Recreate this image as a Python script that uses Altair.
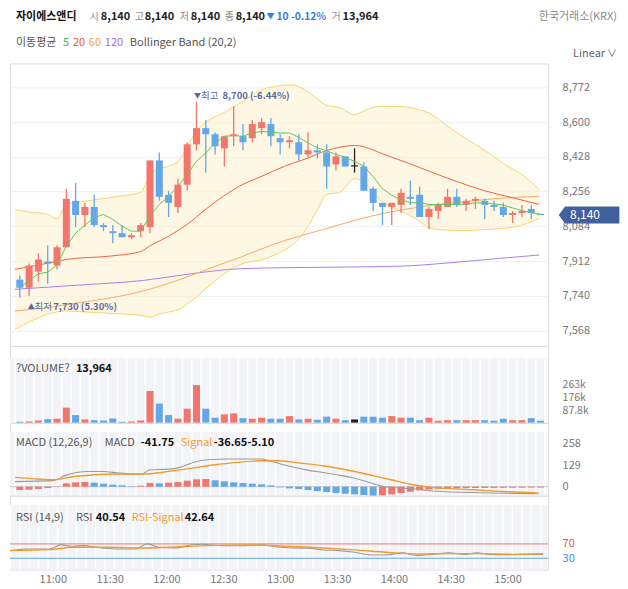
import altair as alt
import pandas as pd

alt.data_transformers.disable_max_rows()
FONT = "Noto Sans CJK KR"

# ---------------- data ----------------
start_min = 640  # 10:40, 5-minute candles
times = [start_min + 5 * i for i in range(57)]

open_ = [7820, 7780, 7860, 7910, 7890, 7980, 8210, 8140, 8180, 8090,
         8060, 8050, 8030, 8060, 8080, 8410, 8240, 8180, 8290, 8490,
         8570, 8540, 8470, 8530, 8530, 8520, 8570, 8590, 8520, 8500,
         8500, 8440, 8460, 8450, 8390, 8430, 8380, 8380, 8270, 8200,
         8180, 8190, 8230, 8240, 8130, 8160, 8180, 8230, 8190, 8210,
         8210, 8190, 8180, 8140, 8150, 8170, 8140]
high = [7840, 7900, 7950, 7990, 7990, 8270, 8300, 8200, 8240, 8100,
        8090, 8090, 8050, 8100, 8410, 8450, 8260, 8320, 8500, 8700,
        8610, 8550, 8530, 8680, 8590, 8610, 8620, 8620, 8540, 8530,
        8540, 8550, 8490, 8490, 8450, 8430, 8470, 8400, 8280, 8200,
        8200, 8270, 8310, 8280, 8180, 8200, 8270, 8270, 8220, 8230,
        8220, 8210, 8200, 8160, 8190, 8190, 8140]
low = [7730, 7740, 7810, 7800, 7870, 7980, 8080, 8080, 8080, 8060,
       8000, 8030, 8020, 8030, 8050, 8210, 8130, 8150, 8260, 8460,
       8350, 8440, 8380, 8480, 8460, 8500, 8540, 8480, 8440, 8470,
       8410, 8420, 8420, 8270, 8360, 8380, 8350, 8260, 8160, 8090,
       8090, 8150, 8190, 8130, 8070, 8120, 8180, 8180, 8160, 8170,
       8120, 8160, 8130, 8100, 8130, 8120, 8140]
close = [7780, 7890, 7920, 7900, 7980, 8220, 8140, 8180, 8090, 8080,
         8050, 8030, 8040, 8090, 8410, 8230, 8200, 8290, 8490, 8570,
         8540, 8480, 8530, 8540, 8500, 8590, 8600, 8530, 8500, 8510,
         8440, 8460, 8450, 8380, 8430, 8380, 8380, 8260, 8200, 8180,
         8200, 8250, 8220, 8130, 8170, 8190, 8230, 8190, 8210, 8220,
         8190, 8180, 8140, 8150, 8160, 8150, 8140]
volume = [7000, 9000, 16000, 25000, 28000, 104000, 53000, 23000, 18000, 16000,
          30000, 7000, 9000, 16000, 219000, 132000, 53000, 28000, 97000, 259000,
          97000, 35000, 58000, 65000, 32000, 28000, 35000, 28000, 28000, 46000,
          23000, 28000, 21000, 42000, 28000, 18000, 23000, 42000, 42000, 35000,
          46000, 35000, 35000, 18000, 35000, 14000, 18000, 18000, 18000, 18000,
          18000, 14000, 28000, 18000, 18000, 32000, 13964]
osc = [-20, -18, -14, -8, -2, 20, 26, 28, 24, 18,
       12, 8, 2, 6, 22, 20, 24, 28, 36, 44,
       46, 38, 32, 26, 22, 18, 14, 8, -4, -10,
       -14, -20, -26, -32, -38, -42, -46, -50, -54, -52,
       -46, -38, -30, -22, -16, -12, -10, -9, -8.5, -8,
       -7.5, -7, -6.5, -6, -5.6, -5.3, -5.1]
ma5 = [7780, 7815, 7849, 7857, 7893, 7986, 8050, 8090, 8126, 8143,
       8118, 8085, 8060, 8060, 8135, 8192, 8233, 8283, 8340, 8406,
       8447, 8497, 8530, 8533, 8530, 8546, 8554, 8550, 8546, 8546,
       8525, 8497, 8472, 8458, 8440, 8425, 8406, 8381, 8330, 8270,
       8238, 8215, 8202, 8200, 8192, 8192, 8192, 8192, 8195, 8200,
       8200, 8195, 8189, 8175, 8162, 8151, 8143]

ma20_t = [637.4, 659.8, 665.0, 689.1, 704.7, 709.8, 720.2, 730.5, 740.9, 749.5, 758.1,
          770.2, 782.3, 794.3, 804.7, 820.2, 837.4, 854.7, 871.9, 889.2, 906.4, 919.3]
ma20_v = [7871, 7910, 7920, 7937, 7958, 7986, 8036, 8097, 8175, 8233, 8283,
          8332, 8381, 8420, 8458, 8484, 8435, 8376, 8316, 8262, 8222, 8192]
ma60_t = [637.4, 654.6, 671.9, 689.1, 706.4, 723.7, 740.9, 758.1, 777.1, 803.0,
          828.8, 854.7, 880.6, 897.8, 919.3]
ma60_v = [7665, 7681, 7706, 7730, 7764, 7813, 7871, 7929, 7997, 8068,
          8134, 8179, 8208, 8222, 8233]
ma120_t = [637.4, 671.9, 706.4, 732.2, 758.1, 782.3, 811.6, 846.0, 871.9, 897.8, 919.3]
ma120_v = [7772, 7793, 7816, 7849, 7874, 7879, 7882, 7887, 7904, 7925, 7942]

band_t = [637.4, 645, 655, 660, 665, 675, 685, 695, 705, 710, 715, 720, 725, 730, 735,
          740, 750, 760, 770, 780, 785, 790, 795, 800, 805, 812, 820, 825, 830, 835,
          845, 855, 860, 870, 880, 890, 900, 910, 919.3]
band_up = [8167, 8155, 8143, 8121, 8192, 8208, 8222, 8235, 8252, 8340, 8370, 8381, 8404, 8480, 8555,
           8600, 8648, 8703, 8760, 8780, 8785, 8775, 8750, 8715, 8683, 8672, 8637, 8655, 8673, 8678,
           8677, 8660, 8645, 8580, 8517, 8460, 8395, 8340, 8266]
band_lo = [7574, 7610, 7649, 7660, 7665, 7660, 7655, 7650, 7643, 7635, 7649, 7660, 7670, 7700, 7735,
           7775, 7850, 7900, 7918, 7955, 7982, 8020, 8085, 8165, 8241, 8252, 8320, 8305, 8250, 8205,
           8160, 8110, 8077, 8065, 8063, 8068, 8073, 8090, 8123]

macd_t = [637.4, 658.1, 664.3, 676.7, 685.0, 693.3, 705.7, 709.8, 720.2, 724.3, 734.7,
          740.9, 753.3, 761.6, 769.8, 774.0, 782.3, 794.7, 803.0, 811.2, 819.5, 827.8,
          836.1, 844.3, 852.6, 860.9, 869.2, 881.6, 894.0, 906.4, 918.8]
macd_v = [30, 36, 66, 91, 91, 81, 76, 101, 105, 111, 149,
          161, 165, 165, 165, 155, 129, 99, 85, 70, 52, 26,
          0, -8, -14, -24, -30, -34, -38, -40, -41.75]
sig_t = [637.4, 649.8, 658.1, 668.5, 678.8, 691.2, 705.7, 720.2, 732.6, 745.0, 757.4, 769.8,
         778.1, 790.5, 803.0, 815.4, 827.8, 840.2, 852.6, 860.9, 869.2, 885.7, 902.3, 918.8]
sig_v = [55.6, 45.7, 41.7, 59.6, 69.5, 75.5, 75.5, 91.4, 111, 131, 145, 155,
         155, 141, 125, 101, 71.5, 39.7, 10, -4, -10, -20, -30, -36.65]

rsi_t = [637.4, 645.7, 658.1, 664.3, 670.5, 676.7, 682.9, 693.3, 703.6, 709.8, 716.0, 724.3,
         732.6, 738.8, 749.1, 761.6, 769.8, 778.1, 786.4, 794.7, 803.0, 811.2, 819.5, 827.8,
         836.1, 844.3, 852.6, 860.9, 869.2, 877.4, 883.6, 891.9, 900.2, 908.5, 918.8]
rsi_v = [51.4, 56, 56, 67.2, 63.5, 65.3, 60.7, 56, 56, 70, 60.7, 58.8,
         67, 69, 65.3, 65.3, 67.2, 61.6, 58.8, 58, 53, 51.4, 46.8, 39.3,
         39.3, 45, 37.5, 41, 45, 41, 45, 40.2, 40.2, 41, 40.54]
rsis_t = [637.4, 658.1, 670.5, 689.1, 705.7, 720.2, 740.9, 765.7, 782.3, 803.0, 819.5,
          836.1, 852.6, 869.2, 885.7, 902.3, 918.8]
rsis_v = [51.4, 54, 60.7, 60.7, 58.8, 60.7, 65.3, 67.2, 63.5, 58.8, 53.3,
          46.8, 42, 43, 43, 41, 42.64]

prev_day_close = 8150
macd_last, signal_last, osc_last = -41.75, -36.65, -5.10
rsi_last, rsi_sig_last = 40.54, 42.64

main_ticks = [7568, 7740, 7912, 8084, 8256, 8428, 8600, 8772]
vol_ticks = [87800, 175600, 263400]
macd_ticks = [0, 129, 258]
rsi_ticks = [30, 70]
time_ticks = [660, 690, 720, 750, 780, 810, 840, 870, 900]

# ---------------- frames ----------------
cdf = pd.DataFrame({"t": times, "o": open_, "h": high, "l": low, "c": close,
                    "vol": volume, "osc": osc, "ma5": ma5})
prev_c = cdf["c"].shift(1).fillna(cdf["c"])


def direction(r, pc):
    if r.c > r.o:
        return "up"
    if r.c < r.o:
        return "down"
    if r.c > pc:
        return "up"
    if r.c < pc:
        return "down"
    return "flat"


cdf["dir"] = [direction(r, pc) for r, pc in zip(cdf.itertuples(), prev_c)]
cdf["blo"] = cdf[["o", "c"]].min(axis=1)
cdf["bhi"] = [max(max(o, c), min(o, c) + 6) for o, c in zip(cdf.o, cdf.c)]
prev_osc = cdf["osc"].shift(1).fillna(cdf["osc"] - 1)
cdf["odir"] = ["up" if a >= b else "down" for a, b in zip(cdf.osc, prev_osc)]
edges = pd.DataFrame({"e": [t - 2.5 for t in times] + [times[-1] + 2.5]})

band_df = pd.DataFrame({"t": band_t, "up": band_up, "lo": band_lo})
ONE = pd.DataFrame({"k": [0]})

# ---------------- layout ----------------
W = 539
XS = alt.Scale(domain=[637.4, 921.4], nice=False, zero=False)
MAIN_H, VOL_H, MACD_H, RSI_H = 283, 77, 73, 74
YS_MAIN = alt.Scale(domain=[7491.8, 8890.6], nice=False, zero=False)
YS_VOL = alt.Scale(domain=[0, 528000], nice=False, zero=False)
YS_MACD = alt.Scale(domain=[-53.6, 381.4], nice=False, zero=False)
YS_RSI = alt.Scale(domain=[-1.4, 204.3], nice=False, zero=False)

RED, BLUE = "#ec3f35", "#1f7fd8"
RED_W, BLUE_W = "#f2766d", "#62a8e8"
RED_L, BLUE_L = "#f4a4a4", "#94c6f0"
ORANGE = "#f39a2b"
LBL = "#777777"
BODY_W = 7

common_ax = dict(domain=False, ticks=False, labelPadding=14, labelColor=LBL,
                 labelFont=FONT, title=None, labelFlush=False, labelOverlap=False)
AX_MAIN = alt.Axis(orient="right", values=main_ticks, labelExpr="format(datum.value, ',')",
                   grid=True, gridColor="#eef0f3", gridWidth=1, labelFontSize=11, **common_ax)
AX_VOL = alt.Axis(orient="right", values=vol_ticks, grid=False, labelFontSize=10.5,
                  labelExpr="datum.value < 100000 ? format(datum.value/1000, '.1f') + 'k' : format(datum.value/1000, '.0f') + 'k'",
                  **common_ax)
AX_MACD = alt.Axis(orient="right", values=macd_ticks, grid=False, labelFontSize=11, **common_ax)
AX_RSI = alt.Axis(orient="right", values=rsi_ticks, grid=False,
                  labelColor={"condition": {"test": "datum.value == 70", "value": "#e8554d"},
                              "value": "#3a8fe6"},
                  domain=False, ticks=False, labelPadding=14, labelFontSize=11,
                  labelFont=FONT, title=None, labelFlush=False, labelOverlap=False)
AX_TIME = alt.Axis(values=time_ticks, domain=False, ticks=False, grid=False,
                   labelExpr="floor(datum.value/60) + ':' + (datum.value % 60 == 0 ? '00' : datum.value % 60)",
                   labelPadding=4, labelColor=LBL, labelFontSize=11, labelFont=FONT,
                   title=None, labelFlush=False, labelOverlap=False)


def X(field="t", axis=None):
    return alt.X(f"{field}:Q", scale=XS, axis=axis, title=None)


def T(s, x, y, color="#555555", weight="normal", size=11, align="left"):
    return alt.Chart(ONE).mark_text(text=s, align=align, baseline="middle", color=color,
                                    fontWeight=weight, fontSize=size, font=FONT).encode(
        x=alt.value(x), y=alt.value(y))


def line(t, v, color, ys, ax, width=1.0, interp="monotone", xaxis=None):
    df = pd.DataFrame({"t": t, "v": v})
    return alt.Chart(df).mark_line(color=color, strokeWidth=width, interpolate=interp,
                                   clip=True).encode(
        x=X("t", xaxis), y=alt.Y("v:Q", scale=ys, axis=ax, title=None))


# ---------------- main panel ----------------
YM = lambda f: alt.Y(f"{f}:Q", scale=YS_MAIN, axis=AX_MAIN, title=None)

band_fill = alt.Chart(band_df).mark_area(color="#fdefc8", opacity=0.5, interpolate="monotone",
                                         clip=True).encode(x=X(), y=YM("lo"), y2="up:Q")
band_up_l = alt.Chart(band_df).mark_line(color="#f9d46a", strokeWidth=1, interpolate="monotone",
                                         clip=True).encode(x=X(), y=YM("up"))
band_lo_l = alt.Chart(band_df).mark_line(color="#f9d46a", strokeWidth=1, interpolate="monotone",
                                         clip=True).encode(x=X(), y=YM("lo"))
l120 = line(ma120_t, ma120_v, "#a97ef2", YS_MAIN, AX_MAIN)
l60 = line(ma60_t, ma60_v, "#f6aa6a", YS_MAIN, AX_MAIN)
l20 = line(ma20_t, ma20_v, "#f0623e", YS_MAIN, AX_MAIN)
l5 = alt.Chart(cdf).mark_line(color="#5cc95c", strokeWidth=1, clip=True).encode(
    x=X(), y=YM("ma5"))

wick = alt.Chart(cdf).mark_rule(strokeWidth=1.3).encode(
    x=X(), y=YM("l"), y2="h:Q",
    color=alt.Color("dir:N", scale=alt.Scale(domain=["up", "down", "flat"],
                                              range=[RED_W, BLUE_W, "#222222"]), legend=None))
body = alt.Chart(cdf).mark_bar(size=BODY_W).encode(
    x=X(), y=YM("blo"), y2="bhi:Q",
    color=alt.Color("dir:N", scale=alt.Scale(domain=["up", "down", "flat"],
                                              range=[RED, BLUE, "#222222"]), legend=None))

last_close = close[-1]
hi_i = max(range(len(high)), key=lambda i: high[i])
lo_i = min(range(len(low)), key=lambda i: low[i])
hi_df = pd.DataFrame({"t": [times[hi_i]], "v": [high[hi_i]]})
lo_df = pd.DataFrame({"t": [times[lo_i]], "v": [low[lo_i]]})
hi_pct = (last_close - high[hi_i]) / high[hi_i] * 100
lo_pct = (last_close - low[lo_i]) / low[lo_i] * 100
ANN = "#5a6a9c"


def ann(df, s, dx, dy, size, weight="normal"):
    return alt.Chart(df).mark_text(text=s, align="left", baseline="middle", color=ANN,
                                   fontSize=size, fontWeight=weight, font=FONT,
                                   xOffset=dx, yOffset=dy).encode(x=X(), y=YM("v"))


hi_marks = [ann(hi_df, "▼", -2.6, -6, 7), ann(hi_df, "최고", 4.5, -6, 9.5),
            ann(hi_df, f"{high[hi_i]:,} ({hi_pct:.2f}%)", 26, -6, 9.5, "bold")]
lo_marks = [ann(lo_df, "▲", 8, 9, 7), ann(lo_df, "최저", 14.8, 9, 9.5),
            ann(lo_df, f"{low[lo_i]:,} ({lo_pct:.2f}%)", 33.5, 9, 9.5, "bold")]

last_df = pd.DataFrame({"v": [last_close]})
tag = alt.Chart(last_df).mark_point(
    shape="M -0.75 0 L 0 -1 L 6.4 -1 L 6.4 1 L 0 1 Z", size=289, filled=True,
    color="#41609e", opacity=1, strokeWidth=0).encode(x=alt.value(W + 17), y=YM("v"))
tag_txt = alt.Chart(last_df).mark_text(text=f"{last_close:,}", align="center", baseline="middle",
                                       color="white", fontSize=12, font=FONT).encode(
    x=alt.value(W + 37), y=YM("v"))

chg = last_close - prev_day_close
chg_pct = chg / prev_day_close * 100
arrow = "▼" if chg < 0 else "▲"
R1, R2 = -46, -20
PRE = "#8a8a8a"
hdr = [
    alt.Chart(ONE).mark_rule(color="white").encode(x=alt.value(0), x2=alt.value(3), y=alt.value(-54)),
    T("자이에스앤디", 6, R1, "#111111", "bold"),
    T("시", 80, R1, PRE, "normal", 10), T(f"{open_[-1]:,}", 91, R1, "#222222", "bold"),
    T("고", 125, R1, PRE, "normal", 10), T(f"{high[-1]:,}", 135, R1, "#222222", "bold"),
    T("저", 170, R1, PRE, "normal", 10), T(f"{low[-1]:,}", 181, R1, "#222222", "bold"),
    T("종", 215, R1, PRE, "normal", 10), T(f"{last_close:,}", 226, R1, "#222222", "bold"),
    T(arrow, 257, R1, "#2f7fe0", "normal", 8),
    T(f"{abs(chg)} {chg_pct:.2f}%", 267, R1, "#2f7fe0", "bold", 10.3),
    T("거", 322, R1, PRE, "normal", 10), T(f"{volume[-1]:,}", 333, R1, "#222222", "bold"),
    T("한국거래소(KRX)", 608, R1, PRE, "normal", 11, "right"),
    T("이동평균", 6, R2, "#555555"),
    T("5", 53, R2, "#3cb84a"), T("20", 63, R2, "#f0563c"),
    T("60", 79, R2, "#f5a247"), T("120", 95, R2, "#9b6ef3"),
    T("Bollinger Band (20,2)", 120, R2, "#555555"),
    T("Linear", 564, -9, "#666666"), T("∨", 598, -9, "#666666", "normal", 10),
]

main = alt.layer(band_fill, band_up_l, band_lo_l, l120, l60, l20, wick, body, l5,
                 *hi_marks, *lo_marks, tag, tag_txt, *hdr).properties(width=W, height=MAIN_H)


# ---------------- lower panels ----------------
def panel_bg(top, bottom, xaxis=None):
    bg = alt.Chart(ONE).mark_rect(color="#f3f4f7").encode(
        x=alt.value(0), x2=alt.value(W), y=alt.value(top), y2=alt.value(bottom))
    st = alt.Chart(edges).mark_rule(color="white", strokeWidth=1.4).encode(
        x=X("e", xaxis), y=alt.value(top), y2=alt.value(bottom))
    return [bg, st]


vol_bars = alt.Chart(cdf).mark_bar(size=BODY_W).encode(
    x=X(), y=alt.Y("vol:Q", scale=YS_VOL, axis=AX_VOL, title=None),
    color=alt.Color("dir:N", scale=alt.Scale(domain=["up", "down", "flat"],
                                              range=[RED_L, BLUE_L, "#bbbbbb"]), legend=None))
vol = alt.layer(*panel_bg(12, VOL_H), vol_bars,
                T("?VOLUME?", 6, 23, "#555555"),
                T(f"{volume[-1]:,}", 66, 23, "#111111", "bold")).properties(width=W, height=VOL_H)

zero_df = pd.DataFrame({"v": [0]})
zero = alt.Chart(zero_df).mark_rule(color="#c9c9c9", strokeWidth=1).encode(
    y=alt.Y("v:Q", scale=YS_MACD, axis=AX_MACD, title=None), x=alt.value(0), x2=alt.value(W))
hist = alt.Chart(cdf).mark_bar(size=BODY_W).encode(
    x=X(), y=alt.Y("osc:Q", scale=YS_MACD, axis=AX_MACD, title=None), y2=alt.datum(0),
    color=alt.Color("odir:N", scale=alt.Scale(domain=["up", "down"], range=[RED_L, BLUE_L]),
                    legend=None))
macd_l = line(macd_t, macd_v, "#9a9a9a", YS_MACD, AX_MACD, 1.1)
sig_l = line(sig_t, sig_v, ORANGE, YS_MACD, AX_MACD, 1.4)
macd = alt.layer(*panel_bg(9, MACD_H), zero, hist, macd_l, sig_l,
                 T("MACD (12,26,9)", 6, 20.7, "#555555"),
                 T("MACD", 95, 20.7, "#555555"),
                 T(f"{macd_last:.2f}", 131, 20.7, "#111111", "bold"),
                 T("Signal", 171, 20.7, ORANGE),
                 T(f"{signal_last:.2f}{osc_last:.2f}", 204, 20.7, "#111111", "bold"),
                 ).properties(width=W, height=MACD_H)

lv = pd.DataFrame({"v": [70, 30], "k": ["a", "b"]})
lvl = alt.Chart(lv).mark_rule(strokeWidth=1).encode(
    y=alt.Y("v:Q", scale=YS_RSI, axis=AX_RSI, title=None), x=alt.value(0), x2=alt.value(W),
    color=alt.Color("k:N", scale=alt.Scale(domain=["a", "b"], range=["#f6bdbd", "#b3d5f5"]),
                    legend=None))
rsi_l = line(rsi_t, rsi_v, "#9a9a9a", YS_RSI, AX_RSI, 1.1, xaxis=AX_TIME)
rsis_l = line(rsis_t, rsis_v, ORANGE, YS_RSI, AX_RSI, 1.4, xaxis=AX_TIME)
rsi = alt.layer(*panel_bg(9.3, RSI_H, AX_TIME), lvl, rsi_l, rsis_l,
                T("RSI (14,9)", 6, 22.7, "#555555"),
                T("RSI", 66, 22.7, "#555555"),
                T(f"{rsi_last:.2f}", 86, 22.7, "#111111", "bold"),
                T("RSI-Signal", 122, 22.7, ORANGE),
                T(f"{rsi_sig_last:.2f}", 175, 22.7, "#111111", "bold"),
                ).properties(width=W, height=RSI_H)

chart = alt.vconcat(main, vol, macd, rsi, spacing=0, bounds="flush").properties(
    padding=0, background="white"
).configure_view(stroke=None).configure(font=FONT)

chart.save("out.html", embed_options={"renderer": "svg", "actions": False})
